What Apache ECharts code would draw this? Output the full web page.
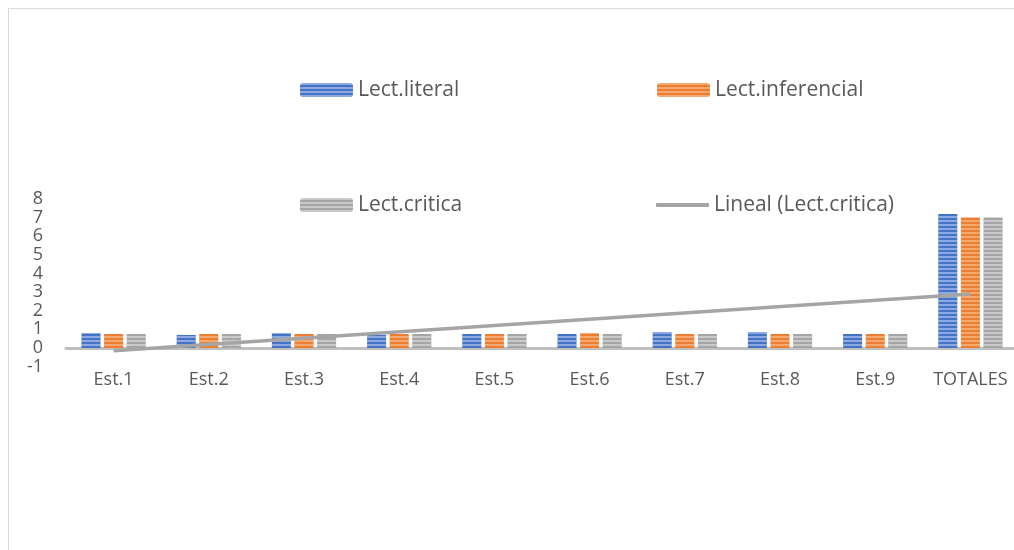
<!DOCTYPE html>
<html><head><meta charset="utf-8">
<script src="https://cdn.jsdelivr.net/npm/echarts@6/dist/echarts.min.js"></script>
<style>
html,body{margin:0;padding:0;background:#fff;overflow:hidden;width:1014px;height:550px;}
#frame{position:absolute;left:8px;top:8px;width:1100px;height:700px;border:1px solid #D9D9D9;box-sizing:border-box;}
#chart{position:absolute;left:0;top:0;width:1018px;height:550px;}
</style></head>
<body>
<div id="frame"></div>
<div id="chart"></div>
<script>
const categories = ['Est.1','Est.2','Est.3','Est.4','Est.5','Est.6','Est.7','Est.8','Est.9','TOTALES'];
const literal     = [0.8, 0.7, 0.8, 0.7, 0.75, 0.75, 0.85, 0.85, 0.75, 7.2];
const inferencial = [0.75, 0.75, 0.75, 0.75, 0.75, 0.8, 0.75, 0.75, 0.75, 7.0];
const critica     = [0.75, 0.75, 0.75, 0.75, 0.75, 0.75, 0.75, 0.75, 0.75, 7.0];
const trendCritica = [['Est.1', -0.15], ['TOTALES', 2.9]];
const yTicks = {min: -1, max: 8, interval: 1};

const font = '"Open Sans", "Noto Sans", sans-serif';
const txt = '#595959';
function stripes(c){
  return {symbol:'rect', symbolSize:1, dashArrayX:[1,0], dashArrayY:[2,2], rotation:0, color:c};
}
const chart = echarts.init(document.getElementById('chart'), null, {renderer:'canvas'});
const legendBase = {padding:0, itemWidth:53, itemHeight:14, itemGap:6, textStyle:{color:txt, fontSize:21, lineHeight:24, fontFamily:font}, selectedMode:false};
chart.setOption({
  animation:false,
  aria:{enabled:false},
  grid:{left:66, right:0, top:199, bottom:183.4, containLabel:false},
  legend:[
    Object.assign({left:300, top:78, data:['Lect.literal']}, legendBase),
    Object.assign({left:657, top:78, data:['Lect.inferencial']}, legendBase),
    Object.assign({left:300, top:193, data:['Lect.critica']}, legendBase),
    Object.assign({}, legendBase, {left:656, top:193, itemHeight:4,
      data:[{name:'Lineal (Lect.critica)', icon:'roundRect'}]})
  ],
  xAxis:{type:'category', data:categories,
    axisLine:{onZero:true, lineStyle:{color:'#BFBFBF', width:3}},
    axisTick:{show:false},
    axisLabel:{color:txt, fontSize:18, fontFamily:font, margin:4, interval:0}},
  yAxis:{type:'value', min:yTicks.min, max:yTicks.max, interval:yTicks.interval,
    splitLine:{show:false}, axisLine:{show:false}, axisTick:{show:false},
    axisLabel:{color:txt, fontSize:18, fontFamily:font, margin:23}},
  series:[
    {name:'Lect.literal', type:'bar', data:literal, barWidth:19, barGap:'19%',
      itemStyle:{color:'#4472C4', decal:stripes('rgba(200,215,245,0.55)')}},
    {name:'Lect.inferencial', type:'bar', data:inferencial, barWidth:19, barGap:'19%',
      itemStyle:{color:'#ED7D31', decal:stripes('rgba(250,205,170,0.55)')}},
    {name:'Lect.critica', type:'bar', data:critica, barWidth:19, barGap:'19%',
      itemStyle:{color:'#A5A5A5', decal:stripes('rgba(225,225,225,0.6)')}},
    {name:'Lineal (Lect.critica)', type:'line', data:trendCritica, symbol:'none',
      lineStyle:{color:'#A5A5A5', width:3.5}, itemStyle:{color:'#A5A5A5'}, z:5}
  ]
});
</script>
</body></html>
